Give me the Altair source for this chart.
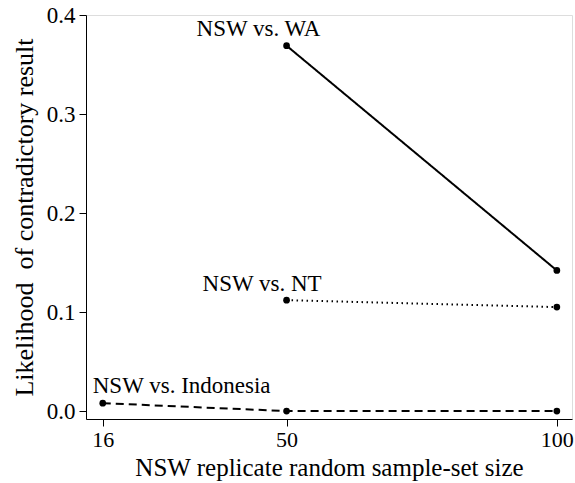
import altair as alt
import pandas as pd

# Data
wa_x = [50, 100]
wa_y = [0.369, 0.142]
nt_x = [50, 100]
nt_y = [0.112, 0.105]
indo_x = [16, 50, 100]
indo_y = [0.008, 0.0, 0.0]
x_ticks = [16, 50, 100]
y_ticks = [0.0, 0.1, 0.2, 0.3, 0.4]

rows = []
for s, xs, ys in [("NSW vs. WA", wa_x, wa_y), ("NSW vs. NT", nt_x, nt_y),
                  ("NSW vs. Indonesia", indo_x, indo_y)]:
    for a, b in zip(xs, ys):
        rows.append({"series": s, "n": a, "p": b})
df = pd.DataFrame(rows)

FONT = "Liberation Serif"

xscale = alt.Scale(domain=[12.9, 102.8], nice=False, zero=False)
yscale = alt.Scale(domain=[-0.008, 0.4], nice=False, zero=False)

base = alt.Chart(df)

def series_layer(name, dash):
    d = base.transform_filter(alt.datum.series == name)
    line = d.mark_line(color="black", strokeWidth=2, strokeDash=dash).encode(
        x=alt.X("n:Q", scale=xscale,
                axis=alt.Axis(values=x_ticks, title="NSW replicate random sample-set size")),
        y=alt.Y("p:Q", scale=yscale,
                axis=alt.Axis(values=y_ticks, format=".1f",
                              title="Likelihood\u00a0 of contradictory result")),
    )
    pts = d.mark_point(filled=True, color="black", size=45, opacity=1).encode(
        x=alt.X("n:Q", scale=xscale),
        y=alt.Y("p:Q", scale=yscale),
    )
    return line + pts

def label_layer(name, dx, dy):
    d = base.transform_filter(alt.datum.series == name).transform_window(
        rn="row_number()").transform_filter(alt.datum.rn == 1)
    return d.mark_text(align="left", baseline="alphabetic", dx=dx, dy=dy).encode(
        x=alt.X("n:Q", scale=xscale),
        y=alt.Y("p:Q", scale=yscale),
        text="series:N",
    )

chart = alt.layer(
    series_layer("NSW vs. WA", [1, 0]),
    series_layer("NSW vs. NT", [1.5, 3.5]),
    series_layer("NSW vs. Indonesia", [8, 5]),
    label_layer("NSW vs. WA", -90, -10),
    label_layer("NSW vs. NT", -84, -9),
    label_layer("NSW vs. Indonesia", -10, -10),
).properties(
    width=486, height=404,
    autosize=alt.AutoSizeParams(type="none"),
    padding={"left": 86, "top": 15, "right": 3, "bottom": 64},
    background="white",
).configure_view(stroke=None).configure(font=FONT).configure_axis(
    grid=False, domainColor="black", tickColor="black", tickSize=7,
    labelFont=FONT, labelFontSize=22, labelColor="black", labelPadding=4,
    titleFont=FONT, titleFontSize=25, titleFontWeight="normal",
    titleColor="black", labelFlush=False,
).configure_axisX(titlePadding=5, labelPadding=3).configure_axisY(
    titlePadding=9, labelFontSize=23, titleFontSize=26).configure_text(
    font=FONT, fontSize=23, color="black")

chart.save("out.html", embed_options={"renderer": "svg", "actions": False})
